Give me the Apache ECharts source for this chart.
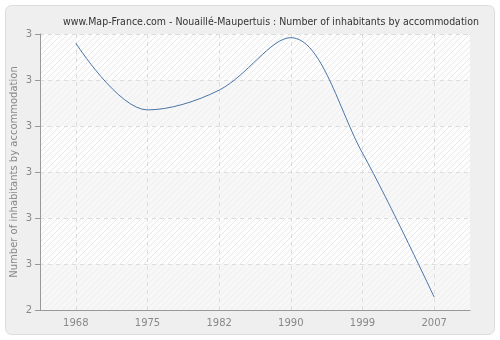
<!DOCTYPE html>
<html><head><meta charset="utf-8">
<script src="https://cdn.jsdelivr.net/npm/echarts@6/dist/echarts.min.js"></script>
<style>html,body{margin:0;padding:0;background:#fff}#c{width:500px;height:340px}</style>
</head><body><div id="c"></div>
<script>
const categories = ['1968','1975','1982','1990','1999','2007'];
const values = [2.98, 2.835, 2.878, 2.992, 2.741, 2.428];
const yMin = 2.4, yMax = 3.0, yStep = 0.1;

function hatch(bg, fg){
  const c = document.createElement('canvas'); c.width = 6; c.height = 6;
  const g = c.getContext('2d');
  g.fillStyle = bg; g.fillRect(0,0,6,6);
  g.strokeStyle = fg; g.lineWidth = 1;
  g.beginPath(); g.moveTo(0,6); g.lineTo(6,0); g.moveTo(-1,1); g.lineTo(1,-1); g.moveTo(5,7); g.lineTo(7,5); g.stroke();
  return {image: c, repeat: 'repeat'};
}
const chart = echarts.init(document.getElementById('c'), null, {renderer:'canvas'});
chart.setOption({
  animation:false,
  backgroundColor:'#fff',
  graphic:[{type:'rect', z:-10, shape:{x:5.5,y:5.5,width:489,height:329,r:6}, style:{fill:'#efefef', stroke:'#dcdcdc', lineWidth:1}}],
  title:{text:'www.Map-France.com - Nouaillé-Maupertuis : Number of inhabitants by accommodation', left:58, top:12,
    textStyle:{fontFamily:'DejaVu Sans Condensed', fontSize:10.5, fontWeight:'normal', color:'#333'}},
  grid:{left:40, right:30, top:34, bottom:30, outerBoundsMode:'none', containLabel:false, show:true, backgroundColor:'#fafafa', borderWidth:0},
  xAxis:{type:'category', data:categories, boundaryGap:true,
    axisLine:{lineStyle:{color:'#999'}}, axisTick:{alignWithLabel:true, length:5, lineStyle:{color:'#999'}},
    axisLabel:{color:'#888', fontFamily:'DejaVu Sans', fontSize:10, margin:8},
    splitLine:{show:true, alignWithLabel:true, lineStyle:{color:'#ddd', type:[4,4]}}},
  yAxis:{type:'value', min:yMin, max:yMax, interval:yStep,
    name:'Number of inhabitants by accommodation', nameLocation:'middle', nameGap:21, nameMoveOverlap:false,
    nameTextStyle:{color:'#888', fontFamily:'DejaVu Sans', fontSize:10},
    axisLine:{show:true, lineStyle:{color:'#999'}}, axisTick:{show:true, length:5, lineStyle:{color:'#999'}},
    axisLabel:{color:'#888', fontFamily:'DejaVu Sans', fontSize:10, margin:8, formatter:v=>Math.round(v).toString()},
    splitLine:{show:true, lineStyle:{color:'#ddd', type:[4,4]}},
    splitArea:{show:true, areaStyle:{color:[hatch('#f7f7f7','#eeeeee'), hatch('#fdfdfd','#e9e9e9')]}}},
  series:[{type:'line', data:values, smooth:0.35, symbol:'none', lineStyle:{color:'#4a75a8', width:1}}]
});
</script></body></html>
